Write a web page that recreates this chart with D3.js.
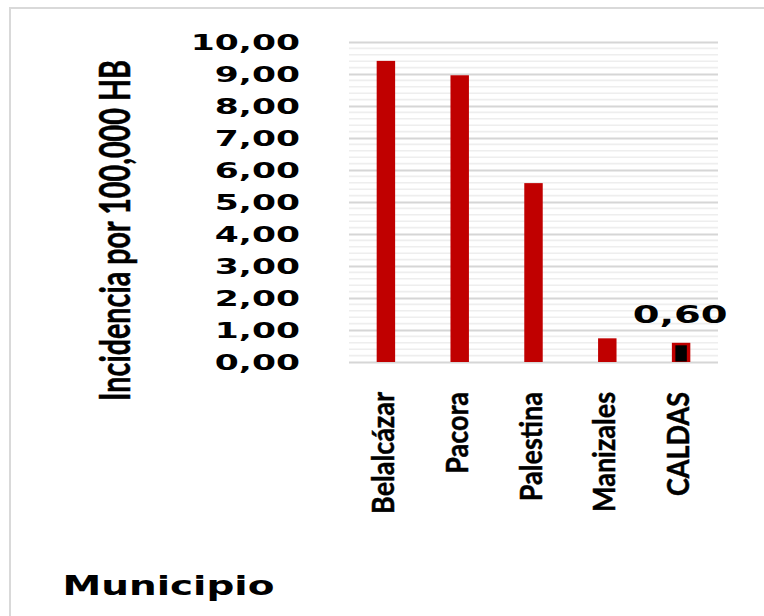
<!DOCTYPE html>
<html>
<head>
<meta charset="utf-8">
<script src="https://cdn.jsdelivr.net/npm/d3@7"></script>
<style>
  html, body { margin: 0; padding: 0; background: #ffffff; }
  svg { display: block; }
</style>
</head>
<body>
<svg id="chart" width="764" height="616"></svg>
<script>
// ---- data ----
const categories = ["Belalcázar", "Pacora", "Palestina", "Manizales", "CALDAS"];
const values = [9.41, 8.96, 5.59, 0.74, 0.60];
const yTicks = [0, 1, 2, 3, 4, 5, 6, 7, 8, 9, 10];
const highlighted = ["CALDAS"];
const yTitle = "Incidencia por 100,000 HB";
const xTitle = "Municipio";

// ---- layout ----
const W = 764, H = 616;
const plot = { left: 349, right: 718, top: 42, bottom: 362 };
const red = "#C00000";
const capRatio = 0.7165; // Lato cap height / em
const svg = d3.select("#chart");

// chart border
svg.append("rect")
  .attr("x", 10).attr("y", 8)
  .attr("width", W + 20).attr("height", H + 20)
  .attr("fill", "#fff").attr("stroke", "#d9d9d9").attr("stroke-width", 2);

const x = d3.scaleBand().domain(categories)
  .range([plot.left, plot.right]).paddingInner(0.75).paddingOuter(0.375);
const y = d3.scaleLinear().domain([0, 10]).range([plot.bottom, plot.top]);

const fmt = v => d3.format(".2f")(v).replace(".", ",");

// minor gridlines
const minor = d3.range(0, 10.0001, 0.2).filter(v => Math.abs(v - Math.round(v)) > 1e-6);
svg.append("g").selectAll("line").data(minor).join("line")
  .attr("x1", plot.left).attr("x2", plot.right)
  .attr("y1", d => y(d)).attr("y2", d => y(d))
  .attr("stroke", "#eeeeee").attr("stroke-width", 1.6);

// major gridlines via axis
const gridAxis = d3.axisLeft(y).tickValues(yTicks)
  .tickSize(-(plot.right - plot.left)).tickFormat("");
const gg = svg.append("g").attr("transform", `translate(${plot.left},0)`).call(gridAxis);
gg.select(".domain").remove();
gg.selectAll(".tick line").attr("stroke", "#d6d6d6").attr("stroke-width", 1.8);

// tick labels
const tickSX = 1.57;
svg.append("g").selectAll("text").data(yTicks).join("text")
  .attr("transform", d => `translate(300,${y(d) + 8}) scale(${tickSX},1)`)
  .attr("text-anchor", "end")
  .attr("font-family", "DejaVu Sans, Verdana, sans-serif")
  .attr("font-weight", "bold").attr("font-size", 22)
  .attr("fill", "#000")
  .text(d => fmt(d));

// bars
const bars = categories.map((c, i) => ({ c, v: values[i] }));
svg.append("g").selectAll("rect").data(bars).join("rect")
  .attr("x", d => x(d.c))
  .attr("width", x.bandwidth())
  .attr("y", d => y(d.v))
  .attr("height", d => y(0) - y(d.v))
  .attr("fill", red);

// inner black fill for the highlighted bar
svg.append("g").selectAll("rect").data(bars.filter(d => highlighted.includes(d.c))).join("rect")
  .attr("x", d => x(d.c) + 3.5)
  .attr("width", x.bandwidth() - 7)
  .attr("y", d => y(d.v) + 2.5)
  .attr("height", d => y(0) - y(d.v) - 3)
  .attr("fill", "#000");

// data label for highlighted bar
svg.append("g").selectAll("text").data(bars.filter(d => highlighted.includes(d.c))).join("text")
  .attr("transform", d => `translate(${x(d.c) + x.bandwidth() / 2 - 1},${y(d.v) - 20}) scale(1.54,1)`)
  .attr("text-anchor", "middle")
  .attr("font-family", "DejaVu Sans, Verdana, sans-serif")
  .attr("font-weight", "bold").attr("font-size", 25)
  .attr("fill", "#000")
  .text(d => fmt(d.v));

// category labels (rotated)
const baseSize = 30;
const catTexts = svg.append("g").selectAll("text").data(categories).join("text")
  .attr("text-anchor", "end")
  .attr("font-family", "Lato, Open Sans, sans-serif")
  .attr("font-weight", "bold").attr("font-size", baseSize)
  .attr("fill", "#000")
  .attr("stroke", "#000").attr("stroke-width", 0.45)
  .text(d => d);
const refLen = catTexts.filter(d => d === categories[0]).node().getComputedTextLength();
const catSize = baseSize * 122 / refLen;
const catSY = 21.5 / (capRatio * catSize);
catTexts.attr("font-size", catSize)
  .attr("transform", d => `translate(${x(d) + x.bandwidth() / 2 + 8},392) rotate(-90) scale(1,${catSY})`);

// y-axis title
const yt = svg.append("text")
  .attr("text-anchor", "middle")
  .attr("font-family", "Lato, Open Sans, sans-serif")
  .attr("font-weight", "bold").attr("font-size", baseSize)
  .attr("fill", "#000")
  .attr("stroke", "#000").attr("stroke-width", 0.35)
  .text(yTitle);
const ytSize = baseSize * 341 / yt.node().getComputedTextLength();
const ytSY = 30 / (capRatio * ytSize);
yt.attr("font-size", ytSize)
  .attr("transform", `translate(130,230.5) rotate(-90) scale(1,${ytSY})`);

// x-axis title
svg.append("text")
  .attr("transform", "translate(62.5,594.5) scale(1.47,1)")
  .attr("font-family", "DejaVu Sans, Verdana, sans-serif")
  .attr("font-weight", "bold").attr("font-size", 26.5)
  .attr("fill", "#000")
  .text(xTitle);
</script>
</body>
</html>
